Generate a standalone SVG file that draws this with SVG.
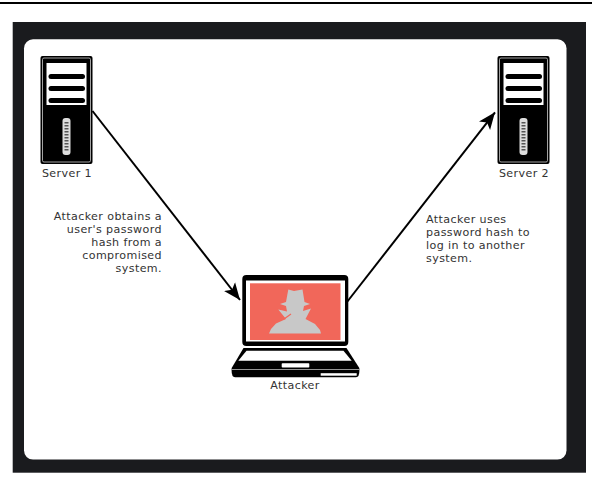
<svg xmlns="http://www.w3.org/2000/svg" width="592" height="488" viewBox="0 0 592 488">
<style>
text{font-family:"DejaVu Sans",Verdana,sans-serif;font-size:11.100px;letter-spacing:0.400px;fill:#333}
.e{text-anchor:end}.m{text-anchor:middle}
.k{fill:#000}.w{fill:#fff}
.dot{fill:#555}
.cn{stroke:#000;stroke-width:2;fill:none;marker-end:url(#ah)}
</style>
<defs>
<marker id="ah" markerUnits="userSpaceOnUse" markerWidth="20" markerHeight="16" refX="17" refY="8" orient="auto">
<path d="M0 1 L17 8 L0 15 L4 8 Z" fill="#000"/>
</marker>
<g id="srv">
<rect class="k" x="0" y="0" width="52" height="108" rx="2"/>
<rect x="2" y="2" width="48" height="104" rx="1.500" fill="none" stroke="#ccc" stroke-width="0.800"/>
<rect class="w" x="6" y="7" width="40" height="42"/>
<rect class="k" x="8" y="18" width="36.500" height="5" rx="2.500"/>
<rect class="k" x="8" y="30" width="36.500" height="5" rx="2.500"/>
<rect class="k" x="8" y="42" width="36.500" height="5" rx="2.500"/>
<rect x="22" y="62" width="8" height="37" rx="3" fill="#ddd"/>
<g class="dot"><rect x="24" y="66" width="4" height="1.500"/><rect x="24" y="69" width="4" height="1.500"/><rect x="24" y="72" width="4" height="1.500"/><rect x="24" y="75" width="4" height="1.500"/><rect x="24" y="78" width="4" height="1.500"/><rect x="24" y="81" width="4" height="1.500"/><rect x="24" y="84" width="4" height="1.500"/><rect x="24" y="87" width="4" height="1.500"/><rect x="24" y="90" width="4" height="1.500"/><rect x="24" y="93" width="4" height="1.500"/></g>
</g>
</defs>
<rect width="592" height="488" fill="#fff"/>
<rect x="0" y="2" width="592" height="2" fill="#000"/>
<rect x="12.700" y="22" width="573.300" height="450.700" fill="#1a1b1e"/>
<rect x="24" y="39.300" width="542.500" height="420.300" rx="9" fill="#fff"/>
<g id="connectors">
<line class="cn" x1="92.500" y1="111" x2="240" y2="300"/>
<line class="cn" x1="347" y1="302" x2="495" y2="112.300"/>
</g>
<g id="server1">
<use href="#srv" x="40.500" y="56"/>
<text class="m" x="67" y="177">Server 1</text>
</g>
<g id="server2">
<use href="#srv" x="497.500" y="56"/>
<text class="m" x="524" y="177">Server 2</text>
</g>
<g id="attacker">
<rect class="k" x="242.300" y="275" width="106" height="71" rx="4"/>
<rect class="w" x="246" y="280.500" width="99" height="61"/>
<rect x="250" y="283.300" width="90.500" height="56.700" fill="#f1675a"/>
<path d="M288.300 289.500 L294 291 L302.500 289.500 L304.500 302 L310 304 L304 306 L303 311 L311 308.500 L305.500 319 L315 324 L320 330 L321 333.500 L269 333.500 L271 329 L276 323.500 L286 319 L278.300 309.500 L287 311.500 L286 306 L280 304 L286 302 Z" fill="#c8c8c8"/>
<path d="M284 319 L291 314" stroke="#f1675a" stroke-width="1.200" fill="none"/>
<path class="k" d="M243.500 348 L346.500 348 L359.300 368 Q360 377.300 356 377.300 L235 377.300 Q231 377.300 231.700 368 Z"/>
<path class="w" d="M246.500 350.700 L343.500 350.700 L351.700 360.700 L238.300 360.700 Z"/>
<rect class="w" x="281.700" y="363.300" width="27.600" height="4.300" rx="0.800"/>
<rect x="232" y="369" width="127" height="0.800" fill="#bbb"/>
<rect class="w" x="320.700" y="373.200" width="36" height="2.500"/>
<text class="m" x="295" y="389">Attacker</text>
</g>
<g id="note1">
<text class="e" x="162" y="219.500">Attacker obtains a</text>
<text class="e" x="162" y="232.500">user's password</text>
<text class="e" x="162" y="245.500">hash from a</text>
<text class="e" x="162" y="258.500">compromised</text>
<text class="e" x="162" y="271.500">system.</text>
</g>
<g id="note2">
<text x="426" y="223">Attacker uses</text>
<text x="426" y="236">password hash to</text>
<text x="426" y="249">log in to another</text>
<text x="426" y="262">system.</text>
</g>
</svg>
